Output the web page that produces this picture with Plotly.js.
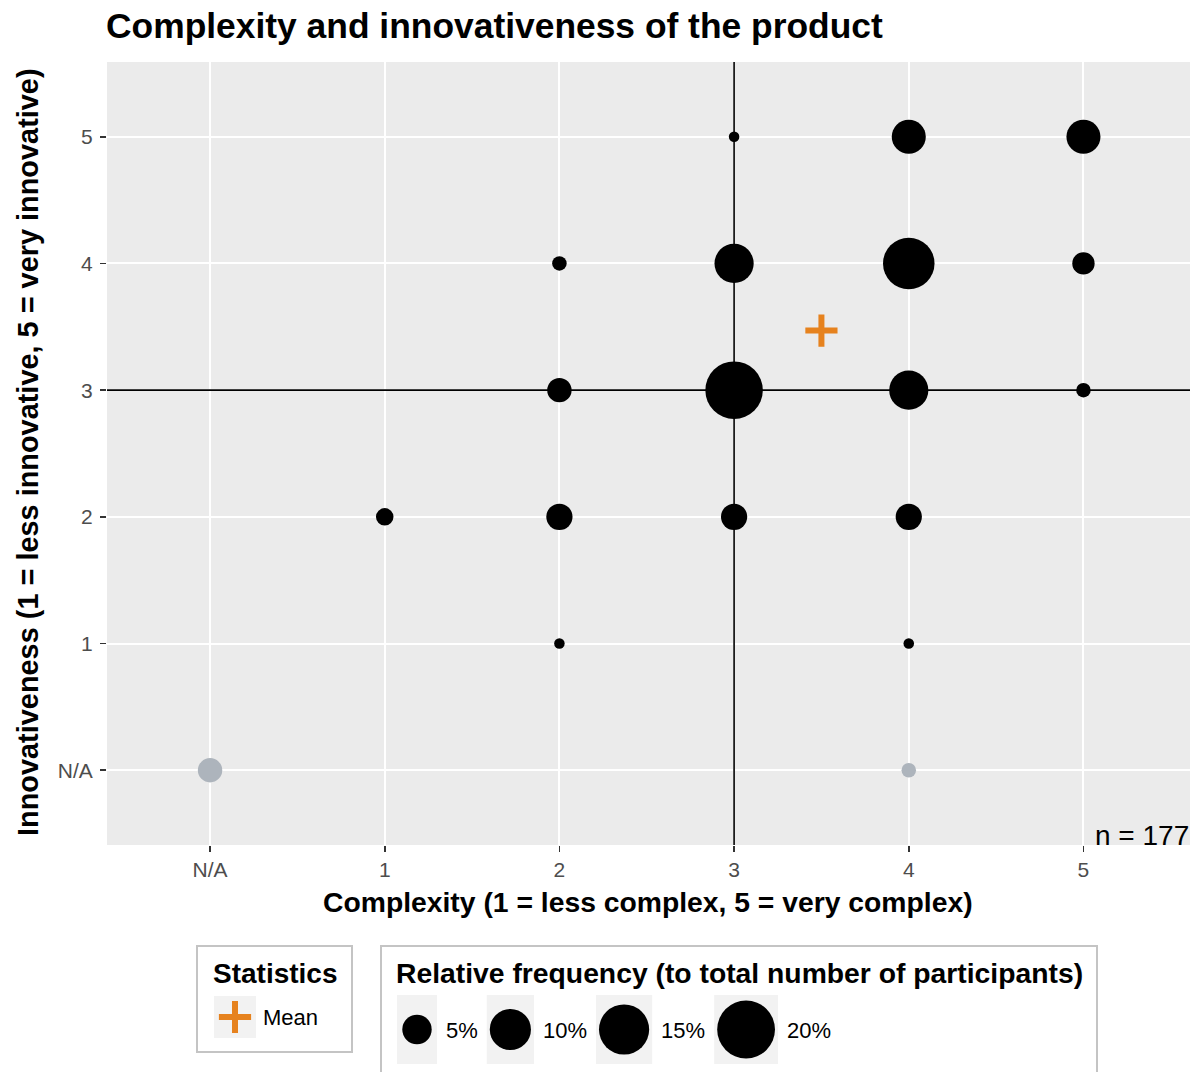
<!DOCTYPE html>
<html>
<head>
<meta charset="utf-8">
<script src="https://cdn.plot.ly/plotly-3.0.1.min.js"></script>
<style>html,body{margin:0;padding:0;background:#fff;}#chart{width:1196px;height:1072px;}</style>
</head>
<body>
<div id="chart"></div>
<script>
// ---------------- data ----------------
const categories = ['N/A', '1', '2', '3', '4', '5'];
const nTotal = 177;

// answered points (complexity, innovativeness, number of participants)
const pointComplexity = ['3', '4', '5', '2', '3', '4', '5', '2', '3', '4', '5', '1', '2', '3', '4', '2', '4'];
const pointInnov      = ['5', '5', '5', '4', '4', '4', '4', '3', '3', '3', '3', '2', '2', '2', '2', '1', '1'];
const pointCount      = [ 1,  12,  12,   2,  16,  28,   5,   6,  35,  16,   2,   3,   7,   7,   7,   1,   1];

// points with a missing answer
const naComplexity = ['N/A', '4'];
const naInnov      = ['N/A', 'N/A'];
const naCount      = [6, 2];

// statistics
const meanComplexity = [3.50];
const meanInnov      = [3.47];
const medianComplexity = 3;
const medianInnov      = 3;

// size legend
const legendPct    = [5, 10, 15, 20];
const legendLabels = ['5%', '10%', '15%', '20%'];

// ---------------- helpers ----------------
const W = 1196, H = 1072;
const FONT = 'Liberation Sans, Arial, sans-serif';
const ORANGE = '#E6821E';
const GREY_PT = '#ADB4BC';
const xRange = [-0.59, 5.61];
const yRange = [-0.59, 5.59];
const px = X => X / W;
const py = Y => 1 - Y / H;
const pos = c => categories.indexOf(c);
const pctOf = c => c / nTotal * 100;
const sizeOf = p => 1 + 12.7 * Math.sqrt(p);

const traces = [];
// median lines (drawn first so the bubbles cover them)
traces.push({
  type: 'scatter', mode: 'lines', xaxis: 'x', yaxis: 'y',
  x: [medianComplexity, medianComplexity], y: yRange,
  line: {color: '#000000', width: 1.6}, hoverinfo: 'skip', showlegend: false, cliponaxis: true
});
traces.push({
  type: 'scatter', mode: 'lines', xaxis: 'x', yaxis: 'y',
  x: xRange, y: [medianInnov, medianInnov],
  line: {color: '#000000', width: 1.6}, hoverinfo: 'skip', showlegend: false, cliponaxis: true
});
traces.push({
  type: 'scatter', mode: 'markers', xaxis: 'x', yaxis: 'y',
  x: pointComplexity.map(pos), y: pointInnov.map(pos),
  marker: {color: '#000000', size: pointCount.map(c => sizeOf(pctOf(c))), sizemode: 'diameter', line: {width: 0}, opacity: 1},
  hoverinfo: 'skip', showlegend: false, cliponaxis: false
});
traces.push({
  type: 'scatter', mode: 'markers', xaxis: 'x', yaxis: 'y',
  x: naComplexity.map(pos), y: naInnov.map(pos),
  marker: {color: GREY_PT, size: naCount.map(c => sizeOf(pctOf(c))), sizemode: 'diameter', line: {width: 0}, opacity: 1},
  hoverinfo: 'skip', showlegend: false, cliponaxis: false
});
traces.push({
  type: 'scatter', mode: 'markers', xaxis: 'x', yaxis: 'y',
  x: meanComplexity, y: meanInnov,
  marker: {symbol: 'cross-thin', size: 23, color: ORANGE, opacity: 1, line: {width: 6, color: ORANGE}},
  hoverinfo: 'skip', showlegend: false, cliponaxis: false
});

// ---------------- manual legends ----------------
const shapes = [];
const annotations = [];

// plot background
shapes.push({type: 'rect', xref: 'x domain', yref: 'y domain', x0: 0, x1: 1, y0: 0, y1: 1,
  fillcolor: '#EBEBEB', line: {width: 0}, layer: 'below'});

// legend boxes
const boxLine = {color: '#C4C4C4', width: 2};
shapes.push({type: 'rect', xref: 'paper', yref: 'paper', x0: px(197), x1: px(352), y0: py(946), y1: py(1052),
  fillcolor: '#FFFFFF', line: boxLine, layer: 'below'});
shapes.push({type: 'rect', xref: 'paper', yref: 'paper', x0: px(381), x1: px(1097), y0: py(946), y1: py(1090),
  fillcolor: '#FFFFFF', line: boxLine, layer: 'below'});

// Statistics key
shapes.push({type: 'rect', xref: 'paper', yref: 'paper', x0: px(214), x1: px(256), y0: py(996), y1: py(1038),
  fillcolor: '#F2F2F2', line: {width: 0}, layer: 'below'});
traces.push({
  type: 'scatter', mode: 'markers', xaxis: 'x2', yaxis: 'y2',
  x: [235], y: [1017],
  marker: {symbol: 'cross-thin', size: 23, color: ORANGE, opacity: 1, line: {width: 6, color: ORANGE}},
  hoverinfo: 'skip', showlegend: false, cliponaxis: false
});

annotations.push({xref: 'paper', yref: 'paper', x: px(211), y: py(973), xanchor: 'left', yanchor: 'middle',
  text: '<b>Statistics</b>', showarrow: false, font: {family: FONT, size: 28, color: '#000'}});
annotations.push({xref: 'paper', yref: 'paper', x: px(261), y: py(1017), xanchor: 'left', yanchor: 'middle',
  text: 'Mean', showarrow: false, font: {family: FONT, size: 22, color: '#000'}});
annotations.push({xref: 'paper', yref: 'paper', x: px(394), y: py(973), xanchor: 'left', yanchor: 'middle',
  text: '<b>Relative frequency (to total number of participants)</b>', showarrow: false,
  font: {family: FONT, size: 28.3, color: '#000'}});

// size keys laid out left to right
const keyCx = [];
let kx = 397;
legendPct.forEach((p, i) => {
  const d = sizeOf(p);
  const w = Math.max(40, d + 6);
  shapes.push({type: 'rect', xref: 'paper', yref: 'paper', x0: px(kx), x1: px(kx + w), y0: py(995), y1: py(1064),
    fillcolor: '#F2F2F2', line: {width: 0}, layer: 'below'});
  keyCx.push(kx + w / 2);
  const lx = kx + w + 9;
  annotations.push({xref: 'paper', yref: 'paper', x: px(lx - 2), y: py(1030), xanchor: 'left', yanchor: 'middle',
    text: legendLabels[i], showarrow: false, font: {family: FONT, size: 22, color: '#000'}});
  const lw = 22 * (0.556 * (legendLabels[i].length - 1) + 0.889);
  kx = lx + lw + 9;
});
traces.push({
  type: 'scatter', mode: 'markers', xaxis: 'x2', yaxis: 'y2',
  x: keyCx, y: legendPct.map(() => 1029.5),
  marker: {color: '#000000', size: legendPct.map(sizeOf), sizemode: 'diameter', opacity: 1, line: {width: 0}},
  hoverinfo: 'skip', showlegend: false, cliponaxis: false
});

// axis titles & note
annotations.push({xref: 'paper', yref: 'paper', x: px(648), y: py(902), xanchor: 'center', yanchor: 'middle',
  text: '<b>Complexity (1 = less complex, 5 = very complex)</b>', showarrow: false,
  font: {family: FONT, size: 28.3, color: '#000'}});
annotations.push({xref: 'paper', yref: 'paper', x: px(28), y: py(452), xanchor: 'center', yanchor: 'middle',
  textangle: -90, text: '<b>Innovativeness (1 = less innovative, 5 = very innovative)</b>', showarrow: false,
  font: {family: FONT, size: 28.9, color: '#000'}});
annotations.push({xref: 'paper', yref: 'paper', x: px(1191), y: py(835), xanchor: 'right', yanchor: 'middle',
  text: 'n = ' + nTotal, showarrow: false, font: {family: FONT, size: 28, color: '#000'}});

const axisCommon = {
  tickvals: categories.map((c, i) => i), ticktext: categories,
  showgrid: true, gridcolor: '#FFFFFF', gridwidth: 2, zeroline: false, showline: false,
  ticks: 'outside', ticklen: 6, tickwidth: 1.6, tickcolor: '#333333',
  tickfont: {family: FONT, size: 21, color: '#4D4D4D'}, fixedrange: true, automargin: false
};

const layout = {
  width: W, height: H,
  margin: {l: 0, r: 0, t: 0, b: 0, pad: 0},
  paper_bgcolor: '#FFFFFF', plot_bgcolor: 'rgba(0,0,0,0)',
  title: {text: '<b>Complexity and innovativeness of the product</b>', xref: 'paper', yref: 'paper',
    x: px(106), xanchor: 'left', y: py(26), yanchor: 'middle',
    font: {family: FONT, size: 35.4, color: '#000'}},
  xaxis: Object.assign({}, axisCommon, {domain: [px(107), px(1190)], range: xRange, anchor: 'y'}),
  yaxis: Object.assign({}, axisCommon, {domain: [py(845), py(62)], range: yRange, anchor: 'x', ticklabelstandoff: 3}),
  xaxis2: {domain: [0, 1], range: [0, W], visible: false, anchor: 'y2', fixedrange: true},
  yaxis2: {domain: [0, 1], range: [H, 0], visible: false, anchor: 'x2', fixedrange: true},
  shapes: shapes, annotations: annotations, showlegend: false, hovermode: false
};

Plotly.newPlot('chart', traces, layout, {displayModeBar: false, staticPlot: true});
</script>
</body>
</html>
